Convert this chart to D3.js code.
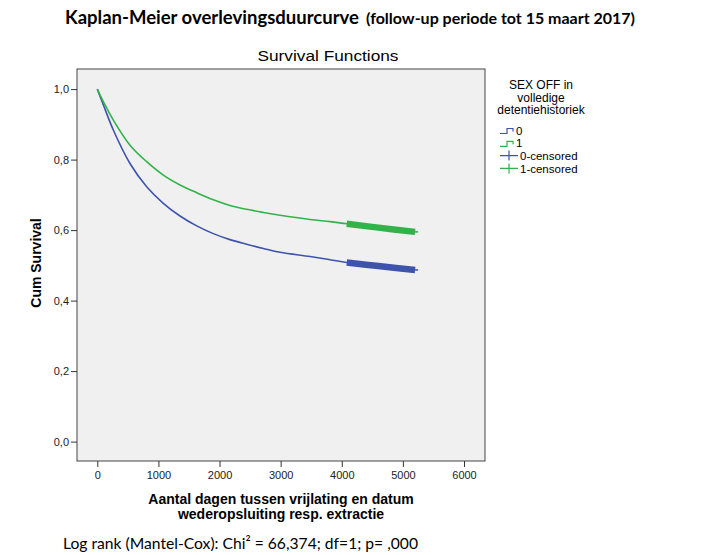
<!DOCTYPE html>
<html>
<head>
<meta charset="utf-8">
<script src="https://cdn.jsdelivr.net/npm/d3@7"></script>
<style>
  body { margin: 0; background: #fff; }
</style>
</head>
<body>
<div class="km"></div>
<script>
// Données (jours, survie cumulée)
const days = [0, 100, 262, 535, 808, 1080, 1353, 1627, 1898, 2170, 2443, 2717, 2990, 3481, 3809, 4082, 4600, 5200];
const survival0 = [1.0, 0.955, 0.884, 0.789, 0.723, 0.676, 0.640, 0.612, 0.590, 0.573, 0.560, 0.548, 0.537, 0.525, 0.516, 0.508, 0.498, 0.487];
const survival1 = [1.0, 0.964, 0.912, 0.841, 0.794, 0.756, 0.728, 0.706, 0.686, 0.670, 0.659, 0.650, 0.642, 0.630, 0.624, 0.618, 0.607, 0.595];
const censoredFrom = 4082; // zone dense de censures
const xTicks = [0, 1000, 2000, 3000, 4000, 5000, 6000];
const yTicks = [0, 0.2, 0.4, 0.6, 0.8, 1.0];
const legendLabels = ['0', '1', '0-censored', '1-censored'];
const legendTitle = ['SEX OFF in', 'volledige', 'detentiehistoriek'];

const width = 704;
const height = 555;
const frame = { left: 77, right: 485, top: 69, bottom: 461 };
const colors = { '0': '#3e53ac', '1': '#31b34a' };

const svg = d3.select('.km')
  .append('svg')
  .attr('width', width)
  .attr('height', height)
  .style('font-family', 'Liberation Sans, Arial, sans-serif');

// Titres
const title = svg.append('text').attr('y', 24).style('font-family', 'Lato, sans-serif').style('font-weight', 'bold');
title.append('tspan')
  .attr('x', 65)
  .attr('font-size', 18)
  .attr('textLength', 294).attr('lengthAdjust', 'spacingAndGlyphs')
  .text('Kaplan-Meier overlevingsduurcurve');
title.append('tspan')
  .attr('x', 366)
  .attr('font-size', 15)
  .attr('textLength', 269).attr('lengthAdjust', 'spacingAndGlyphs')
  .text('(follow-up periode tot 15 maart 2017)');

svg.append('text')
  .attr('x', 328).attr('y', 61)
  .attr('text-anchor', 'middle')
  .attr('font-size', 15.5)
  .attr('textLength', 141).attr('lengthAdjust', 'spacingAndGlyphs')
  .text('Survival Functions');

// Zone du graphique
svg.append('rect')
  .attr('x', frame.left).attr('y', frame.top)
  .attr('width', frame.right - frame.left)
  .attr('height', frame.bottom - frame.top)
  .attr('fill', '#f0f0f0')
  .attr('stroke', '#444')
  .attr('stroke-width', 1);

const x = d3.scaleLinear().domain([0, 6000]).range([97.3, 464]);
const y = d3.scaleLinear().domain([0, 1]).range([441.6, 89.1]);

const fmt = d => d3.format('.1f')(d).replace('.', ',');

svg.append('g')
  .attr('transform', `translate(0, ${frame.bottom})`)
  .call(d3.axisBottom(x).tickValues(xTicks).tickFormat(d3.format('d')).tickSize(6).tickPadding(4))
  .call(g => g.select('.domain').remove())
  .call(g => g.selectAll('line').attr('stroke', '#333'))
  .call(g => g.selectAll('text').attr('font-size', 11).attr('fill', '#222').attr('font-family', 'Liberation Sans, Arial, sans-serif'));

svg.append('g')
  .attr('transform', `translate(${frame.left}, 0)`)
  .call(d3.axisLeft(y).tickValues(yTicks).tickFormat(fmt).tickSize(6).tickPadding(2))
  .call(g => g.select('.domain').remove())
  .call(g => g.selectAll('line').attr('stroke', '#333'))
  .call(g => g.selectAll('text').attr('font-size', 11).attr('fill', '#222').attr('font-family', 'Liberation Sans, Arial, sans-serif'));

// Titres des axes
svg.append('text')
  .attr('transform', 'translate(41, 263) rotate(-90)')
  .attr('text-anchor', 'middle')
  .attr('font-size', 14)
  .attr('font-weight', 'bold')
  .text('Cum Survival');

const xTitle = svg.append('text')
  .attr('text-anchor', 'middle')
  .attr('font-size', 14)
  .attr('font-weight', 'bold');
xTitle.append('tspan').attr('x', 281).attr('y', 504).text('Aantal dagen tussen vrijlating en datum');
xTitle.append('tspan').attr('x', 281).attr('y', 519).text('wederopsluiting resp. extractie');

// Courbes
const series = [
  { key: '0', values: survival0 },
  { key: '1', values: survival1 }
];

const line = d3.line()
  .x(d => x(d.t))
  .y(d => y(d.s))
  .curve(d3.curveCatmullRom.alpha(0.5));

series.forEach(sr => {
  const pts = days.map((t, i) => ({ t: t, s: sr.values[i] }));
  svg.append('path')
    .datum(pts)
    .attr('d', line)
    .attr('fill', 'none')
    .attr('stroke', colors[sr.key])
    .attr('stroke-width', 1.6);

  // bande des observations censurées
  const cens = pts.filter(d => d.t >= censoredFrom);
  svg.append('path')
    .datum(cens)
    .attr('d', line)
    .attr('fill', 'none')
    .attr('stroke', colors[sr.key])
    .attr('stroke-width', 6.5);

  const last = cens[cens.length - 1];
  svg.append('line')
    .attr('x1', x(last.t)).attr('x2', x(last.t) + 3)
    .attr('y1', y(last.s)).attr('y2', y(last.s))
    .attr('stroke', colors[sr.key])
    .attr('stroke-width', 1.5);
});

// Légende
const legend = svg.append('g').attr('font-size', 12);
legend.selectAll('text.title')
  .data(legendTitle)
  .join('text')
    .attr('class', 'title')
    .attr('x', 541)
    .attr('y', (d, i) => 89 + i * 12.5)
    .attr('text-anchor', 'middle')
    .text(d => d);

const items = legend.selectAll('g.item')
  .data(legendLabels)
  .join('g')
    .attr('class', 'item')
    .attr('transform', (d, i) => `translate(500, ${130 + i * 12.8})`);

items.append('path')
  .attr('d', (d, i) => i < 2 ? 'M0,3.5 H7 V-1.5 H13 V1.5' : 'M0,0 H18 M9,-5 V5')
  .attr('fill', 'none')
  .attr('stroke', d => colors[d.charAt(0)])
  .attr('stroke-width', 1.2);

items.append('text')
  .attr('x', (d, i) => i < 2 ? 16 : 20)
  .attr('y', 4.5)
  .attr('font-size', 11.5)
  .text(d => d);

// Statistique du test
svg.append('text')
  .attr('x', 63).attr('y', 549)
  .attr('font-size', 16)
  .attr('textLength', 355).attr('lengthAdjust', 'spacingAndGlyphs')
  .style('font-family', 'Lato, sans-serif')
  .text('Log rank (Mantel-Cox): Chi² = 66,374; df=1; p= ,000');
</script>
</body>
</html>
